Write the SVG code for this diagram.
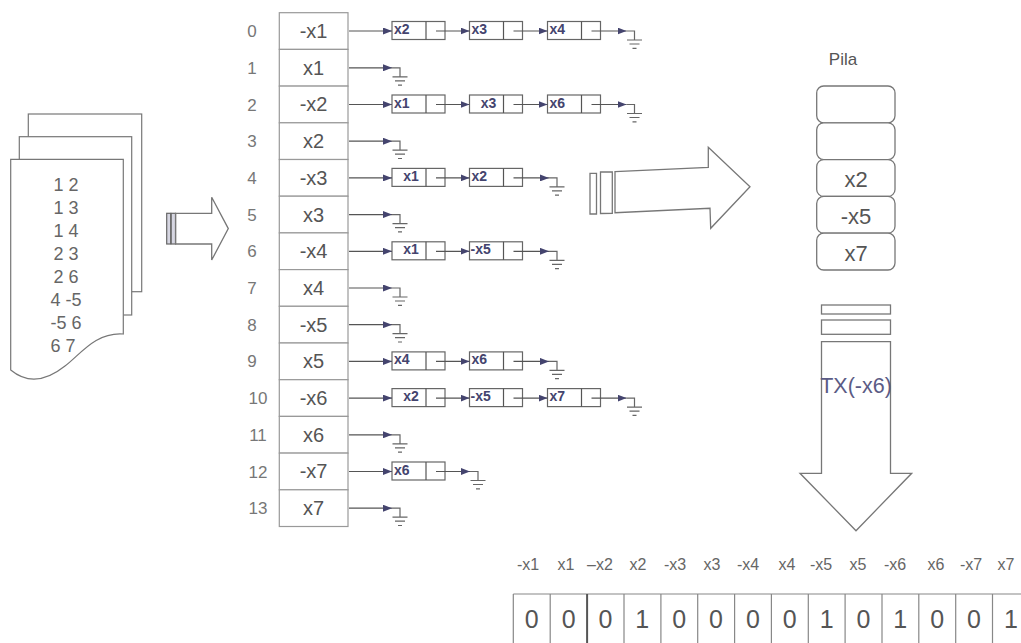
<svg xmlns="http://www.w3.org/2000/svg" width="1021" height="643" viewBox="0 0 1021 643">
<defs>
<marker id="ah" markerUnits="userSpaceOnUse" markerWidth="9" markerHeight="7" refX="9" refY="3.5" orient="auto"><path d="M0,0 L9,3.5 L0,7 z" fill="#44446e"/></marker>
<style>
text{font-family:"Liberation Sans",Arial,sans-serif}
.pg{fill:#fff;stroke:#777;stroke-width:1.2}
.dt{font-size:18px;fill:#666;text-anchor:middle}
.idx{font-size:17px;fill:#777;text-anchor:middle}
.cell{fill:#fff;stroke:#999;stroke-width:1.2}
.cl{font-size:20px;fill:#555;text-anchor:middle}
.nd{fill:#fff;stroke:#666;stroke-width:1.2}
.nt{font-size:14px;font-weight:bold;fill:#44446e}
.ln{stroke:#555;stroke-width:1.2;fill:none}
.ar{stroke:#555;stroke-width:1.2;fill:none;marker-end:url(#ah)}
.gr{stroke:#666;stroke-width:1.2;fill:none}
.bigar{fill:#fff;stroke:#777;stroke-width:1.3}
.bar{fill:#d6d6e2;stroke:#666;stroke-width:1.2}
.stk{fill:#fff;stroke:#777;stroke-width:1.3}
.st{font-size:22px;fill:#555;text-anchor:middle}
.lab{font-size:16px;fill:#666;text-anchor:middle}
.dig{font-size:25px;fill:#555;text-anchor:middle}
.bx{stroke:#888;stroke-width:1.2;fill:none}
</style>
</defs>
<rect width="1021" height="643" fill="#fff"/>

<g id="document">
<rect class="pg" x="28.3" y="114" width="113.4" height="177.7"/>
<rect class="pg" x="19.3" y="136.7" width="112.4" height="178.3"/>
<path class="pg" d="M10.7,159.3 L123.3,159.3 L123.3,334 C95,332 80,355 65,366 C50,378 30,386 10.7,370 Z"/>
<text class="dt" x="66" y="190.5">1 2</text>
<text class="dt" x="66" y="213.5">1 3</text>
<text class="dt" x="66" y="236.5">1 4</text>
<text class="dt" x="66" y="259.5">2 3</text>
<text class="dt" x="66" y="282.5">2 6</text>
<text class="dt" x="66" y="305.5">4 -5</text>
<text class="dt" x="66" y="328.5">-5 6</text>
<text class="dt" x="63" y="351.5">6 7</text>
</g>

<g id="arrow-doc">
<rect class="bar" x="166.7" y="213.3" width="4" height="30.7"/>
<rect class="bar" x="171.2" y="213.3" width="4.3" height="30.7"/>
<path class="bigar" d="M175.7,213.3 L211.7,213.3 L211.7,197.3 L228.3,228.6 L211.7,260 L211.7,244 L175.7,244 Z"/>
</g>

<g id="table">
<g id="row0"><text class="idx" x="252" y="37">0</text><rect class="cell" x="279.3" y="12.7" width="68.7" height="36.7"/><text class="cl" x="313.6" y="38">-x1</text></g>
<g id="row1"><text class="idx" x="252" y="74">1</text><rect class="cell" x="279.3" y="49.4" width="68.7" height="36.7"/><text class="cl" x="313.6" y="74.7">x1</text></g>
<g id="row2"><text class="idx" x="252" y="110.5">2</text><rect class="cell" x="279.3" y="86.1" width="68.7" height="36.7"/><text class="cl" x="313.6" y="111.4">-x2</text></g>
<g id="row3"><text class="idx" x="252" y="147.2">3</text><rect class="cell" x="279.3" y="122.8" width="68.7" height="36.7"/><text class="cl" x="313.6" y="148.1">x2</text></g>
<g id="row4"><text class="idx" x="252" y="183.9">4</text><rect class="cell" x="279.3" y="159.5" width="68.7" height="36.7"/><text class="cl" x="313.6" y="184.8">-x3</text></g>
<g id="row5"><text class="idx" x="252" y="220.6">5</text><rect class="cell" x="279.3" y="196.2" width="68.7" height="36.7"/><text class="cl" x="313.6" y="221.5">x3</text></g>
<g id="row6"><text class="idx" x="252" y="257.3">6</text><rect class="cell" x="279.3" y="232.9" width="68.7" height="36.7"/><text class="cl" x="313.6" y="258.2">-x4</text></g>
<g id="row7"><text class="idx" x="252" y="294">7</text><rect class="cell" x="279.3" y="269.6" width="68.7" height="36.7"/><text class="cl" x="313.6" y="294.9">x4</text></g>
<g id="row8"><text class="idx" x="252" y="330.7">8</text><rect class="cell" x="279.3" y="306.3" width="68.7" height="36.7"/><text class="cl" x="313.6" y="331.6">-x5</text></g>
<g id="row9"><text class="idx" x="252" y="367.4">9</text><rect class="cell" x="279.3" y="343" width="68.7" height="36.7"/><text class="cl" x="313.6" y="368.3">x5</text></g>
<g id="row10"><text class="idx" x="258" y="404.1">10</text><rect class="cell" x="279.3" y="379.7" width="68.7" height="36.7"/><text class="cl" x="313.6" y="405">-x6</text></g>
<g id="row11"><text class="idx" x="258" y="440.8">11</text><rect class="cell" x="279.3" y="416.4" width="68.7" height="36.7"/><text class="cl" x="313.6" y="441.7">x6</text></g>
<g id="row12"><text class="idx" x="258" y="477.5">12</text><rect class="cell" x="279.3" y="453.1" width="68.7" height="36.7"/><text class="cl" x="313.6" y="478.4">-x7</text></g>
<g id="row13"><text class="idx" x="258" y="514.2">13</text><rect class="cell" x="279.3" y="489.8" width="68.7" height="36.7"/><text class="cl" x="313.6" y="515.1">x7</text></g>
</g>

<g id="list-nodes">
<!-- row 0 cy 31 -->
<g id="n0a"><rect class="nd" x="392" y="21.5" width="53" height="18"/><line class="ln" x1="426" y1="21.5" x2="426" y2="39.5"/><text class="nt" x="394" y="34">x2</text></g>
<g id="n0b"><rect class="nd" x="469.5" y="21.5" width="53" height="18"/><line class="ln" x1="503.5" y1="21.5" x2="503.5" y2="39.5"/><text class="nt" x="471.5" y="34">x3</text></g>
<g id="n0c"><rect class="nd" x="547.5" y="21.5" width="53" height="18"/><line class="ln" x1="581.5" y1="21.5" x2="581.5" y2="39.5"/><text class="nt" x="549.5" y="34">x4</text></g>
<!-- row 2 cy 104.5 -->
<g id="n2a"><rect class="nd" x="392" y="95" width="53" height="18"/><line class="ln" x1="426" y1="95" x2="426" y2="113"/><text class="nt" x="394" y="107.5">x1</text></g>
<g id="n2b"><rect class="nd" x="469.5" y="95" width="53" height="18"/><line class="ln" x1="503.5" y1="95" x2="503.5" y2="113"/><text class="nt" x="488.5" y="107.5" text-anchor="middle">x3</text></g>
<g id="n2c"><rect class="nd" x="547.5" y="95" width="53" height="18"/><line class="ln" x1="581.5" y1="95" x2="581.5" y2="113"/><text class="nt" x="549.5" y="107.5">x6</text></g>
<!-- row 4 cy 177.9 -->
<g id="n4a"><rect class="nd" x="392" y="168.4" width="53" height="18"/><line class="ln" x1="426" y1="168.4" x2="426" y2="186.4"/><text class="nt" x="411" y="180.9" text-anchor="middle">x1</text></g>
<g id="n4b"><rect class="nd" x="469.5" y="168.4" width="53" height="18"/><line class="ln" x1="503.5" y1="168.4" x2="503.5" y2="186.4"/><text class="nt" x="471.5" y="180.9">x2</text></g>
<!-- row 6 cy 251.3 -->
<g id="n6a"><rect class="nd" x="392" y="241.8" width="53" height="18"/><line class="ln" x1="426" y1="241.8" x2="426" y2="259.8"/><text class="nt" x="411" y="254.3" text-anchor="middle">x1</text></g>
<g id="n6b"><rect class="nd" x="469.5" y="241.8" width="53" height="18"/><line class="ln" x1="503.5" y1="241.8" x2="503.5" y2="259.8"/><text class="nt" x="470.5" y="254.3">-x5</text></g>
<!-- row 9 cy 361.4 -->
<g id="n9a"><rect class="nd" x="392" y="351.9" width="53" height="18"/><line class="ln" x1="426" y1="351.9" x2="426" y2="369.9"/><text class="nt" x="394" y="364.4">x4</text></g>
<g id="n9b"><rect class="nd" x="469.5" y="351.9" width="53" height="18"/><line class="ln" x1="503.5" y1="351.9" x2="503.5" y2="369.9"/><text class="nt" x="471.5" y="364.4">x6</text></g>
<!-- row 10 cy 398.1 -->
<g id="n10a"><rect class="nd" x="392" y="388.6" width="53" height="18"/><line class="ln" x1="426" y1="388.6" x2="426" y2="406.6"/><text class="nt" x="411" y="401.1" text-anchor="middle">x2</text></g>
<g id="n10b"><rect class="nd" x="469.5" y="388.6" width="53" height="18"/><line class="ln" x1="503.5" y1="388.6" x2="503.5" y2="406.6"/><text class="nt" x="470.5" y="401.1">-x5</text></g>
<g id="n10c"><rect class="nd" x="547.5" y="388.6" width="53" height="18"/><line class="ln" x1="581.5" y1="388.6" x2="581.5" y2="406.6"/><text class="nt" x="549.5" y="401.1">x7</text></g>
<!-- row 12 cy 471.5 -->
<g id="n12a"><rect class="nd" x="392" y="462" width="53" height="18"/><line class="ln" x1="426" y1="462" x2="426" y2="480"/><text class="nt" x="394" y="474.5">x6</text></g>
</g>

<g id="connectors">
<!-- row 0 -->
<line class="ar" x1="349" y1="31" x2="392" y2="31"/>
<line class="ar" x1="436" y1="31" x2="469.5" y2="31"/>
<line class="ar" x1="513.5" y1="31" x2="547.5" y2="31"/>
<line class="ar" x1="591.5" y1="31" x2="626.5" y2="31"/>
<path class="gr" d="M626.5,31 H634.5 V40 M627,40 H642 M629.5,44 H639.5 M632.5,48.3 H636.5"/>
<!-- row 1 -->
<line class="ar" x1="349" y1="67.8" x2="392" y2="67.8"/>
<path class="gr" d="M392,67.8 H400 V76.8 M392.5,76.8 H407.5 M395,80.8 H405 M398,85.1 H402"/>
<!-- row 2 -->
<line class="ar" x1="349" y1="104.5" x2="392" y2="104.5"/>
<line class="ar" x1="436" y1="104.5" x2="469.5" y2="104.5"/>
<line class="ar" x1="513.5" y1="104.5" x2="547.5" y2="104.5"/>
<line class="ar" x1="591.5" y1="104.5" x2="626.5" y2="104.5"/>
<path class="gr" d="M626.5,104.5 H634.5 V113.5 M627,113.5 H642 M629.5,117.5 H639.5 M632.5,121.8 H636.5"/>
<!-- row 3 -->
<line class="ar" x1="349" y1="141.2" x2="392" y2="141.2"/>
<path class="gr" d="M392,141.2 H400 V150.2 M392.5,150.2 H407.5 M395,154.2 H405 M398,158.5 H402"/>
<!-- row 4 -->
<line class="ar" x1="349" y1="177.9" x2="392" y2="177.9"/>
<line class="ar" x1="436" y1="177.9" x2="469.5" y2="177.9"/>
<line class="ar" x1="513.5" y1="177.9" x2="549" y2="177.9"/>
<path class="gr" d="M549,177.9 H557 V186.9 M549.5,186.9 H564.5 M552,190.9 H562 M555,195.2 H559"/>
<!-- row 5 -->
<line class="ar" x1="349" y1="214.6" x2="392" y2="214.6"/>
<path class="gr" d="M392,214.6 H400 V223.6 M392.5,223.6 H407.5 M395,227.6 H405 M398,231.9 H402"/>
<!-- row 6 -->
<line class="ar" x1="349" y1="251.3" x2="392" y2="251.3"/>
<line class="ar" x1="436" y1="251.3" x2="469.5" y2="251.3"/>
<line class="ar" x1="513.5" y1="251.3" x2="549" y2="251.3"/>
<path class="gr" d="M549,251.3 H557 V260.3 M549.5,260.3 H564.5 M552,264.3 H562 M555,268.6 H559"/>
<!-- row 7 -->
<line class="ar" x1="349" y1="288" x2="392" y2="288"/>
<path class="gr" d="M392,288 H400 V297 M392.5,297 H407.5 M395,301 H405 M398,305.3 H402"/>
<!-- row 8 -->
<line class="ar" x1="349" y1="324.7" x2="392" y2="324.7"/>
<path class="gr" d="M392,324.7 H400 V333.7 M392.5,333.7 H407.5 M395,337.7 H405 M398,342 H402"/>
<!-- row 9 -->
<line class="ar" x1="349" y1="361.4" x2="392" y2="361.4"/>
<line class="ar" x1="436" y1="361.4" x2="469.5" y2="361.4"/>
<line class="ar" x1="513.5" y1="361.4" x2="549" y2="361.4"/>
<path class="gr" d="M549,361.4 H557 V370.4 M549.5,370.4 H564.5 M552,374.4 H562 M555,378.7 H559"/>
<!-- row 10 -->
<line class="ar" x1="349" y1="398.1" x2="392" y2="398.1"/>
<line class="ar" x1="436" y1="398.1" x2="469.5" y2="398.1"/>
<line class="ar" x1="513.5" y1="398.1" x2="547.5" y2="398.1"/>
<line class="ar" x1="591.5" y1="398.1" x2="626.5" y2="398.1"/>
<path class="gr" d="M626.5,398.1 H634.5 V407.1 M627,407.1 H642 M629.5,411.1 H639.5 M632.5,415.4 H636.5"/>
<!-- row 11 -->
<line class="ar" x1="349" y1="434.8" x2="392" y2="434.8"/>
<path class="gr" d="M392,434.8 H400 V443.8 M392.5,443.8 H407.5 M395,447.8 H405 M398,452.1 H402"/>
<!-- row 12 -->
<line class="ar" x1="349" y1="471.5" x2="392" y2="471.5"/>
<line class="ar" x1="436" y1="471.5" x2="470" y2="471.5"/>
<path class="gr" d="M470,471.5 H478 V480.5 M470.5,480.5 H485.5 M473,484.5 H483 M476,488.8 H480"/>
<!-- row 13 -->
<line class="ar" x1="349" y1="508.2" x2="392" y2="508.2"/>
<path class="gr" d="M392,508.2 H400 V517.2 M392.5,517.2 H407.5 M395,521.2 H405 M398,525.5 H402"/>
</g>

<g id="arrow-big">
<path class="bigar" d="M590,173.3 L596.5,173.3 L596.5,214 L590,214 Z"/>
<path class="bigar" d="M600.5,172 L612.3,171.8 L612.3,213.3 L600.5,213.5 Z"/>
<path class="bigar" d="M615,171.7 L708.3,167.3 L708.3,147.3 L750,186.7 L710.7,228.3 L710,208.3 L615,212.7 Z"/>
</g>

<g id="pila">
<text x="843" y="65" font-size="17" fill="#555" text-anchor="middle">Pila</text>
<rect class="stk" x="816.7" y="86" width="78.3" height="36.8" rx="7"/>
<rect class="stk" x="816.7" y="122.8" width="78.3" height="36.8" rx="7"/>
<rect class="stk" x="816.7" y="159.6" width="78.3" height="36.8" rx="7"/>
<rect class="stk" x="816.7" y="196.4" width="78.3" height="36.8" rx="7"/>
<rect class="stk" x="816.7" y="233.2" width="78.3" height="36.8" rx="7"/>
<text class="st" x="856" y="187">x2</text>
<text class="st" x="856" y="223.8">-x5</text>
<text class="st" x="856" y="260.6">x7</text>
</g>

<g id="arrow-down">
<rect class="bigar" x="821.5" y="305" width="69" height="9"/>
<rect class="bigar" x="821.5" y="320" width="69" height="14.3"/>
<path class="bigar" d="M821.5,341.7 L890.5,341.7 L890.5,473.3 L911.7,473.3 L856,530.7 L800,473.3 L821.5,473.3 Z"/>
<text x="856" y="393" font-size="21.5" fill="#5b5b85" text-anchor="middle">TX(-x6)</text>
</g>

<g id="array">
<text class="lab" x="528" y="570">-x1</text>
<text class="lab" x="566" y="570">x1</text>
<text class="lab" x="600" y="570">–x2</text>
<text class="lab" x="638" y="570">x2</text>
<text class="lab" x="675" y="570">-x3</text>
<text class="lab" x="712" y="570">x3</text>
<text class="lab" x="748" y="570">-x4</text>
<text class="lab" x="787" y="570">x4</text>
<text class="lab" x="821" y="570">-x5</text>
<text class="lab" x="858" y="570">x5</text>
<text class="lab" x="895" y="570">-x6</text>
<text class="lab" x="936" y="570">x6</text>
<text class="lab" x="971" y="570">-x7</text>
<text class="lab" x="1006" y="570">x7</text>
<path class="bx" d="M513.3,594 H1021 M513.3,594 V643 M550.2,594 V643 M624,594 V643 M660.9,594 V643 M697.7,594 V643 M734.6,594 V643 M771.4,594 V643 M808.3,594 V643 M845.1,594 V643 M882,594 V643 M918.8,594 V643 M955.7,594 V643 M992.5,594 V643"/>
<line x1="587.1" y1="594" x2="587.1" y2="643" stroke="#555" stroke-width="2"/>
<text class="dig" x="531.7" y="628">0</text>
<text class="dig" x="568.6" y="628">0</text>
<text class="dig" x="605.5" y="628">0</text>
<text class="dig" x="642.3" y="628">1</text>
<text class="dig" x="679.2" y="628">0</text>
<text class="dig" x="716" y="628">0</text>
<text class="dig" x="752.9" y="628">0</text>
<text class="dig" x="789.8" y="628">0</text>
<text class="dig" x="826.6" y="628">1</text>
<text class="dig" x="863.5" y="628">0</text>
<text class="dig" x="900.3" y="628">1</text>
<text class="dig" x="937.2" y="628">0</text>
<text class="dig" x="974" y="628">0</text>
<text class="dig" x="1010.9" y="628">1</text>
</g>
</svg>
